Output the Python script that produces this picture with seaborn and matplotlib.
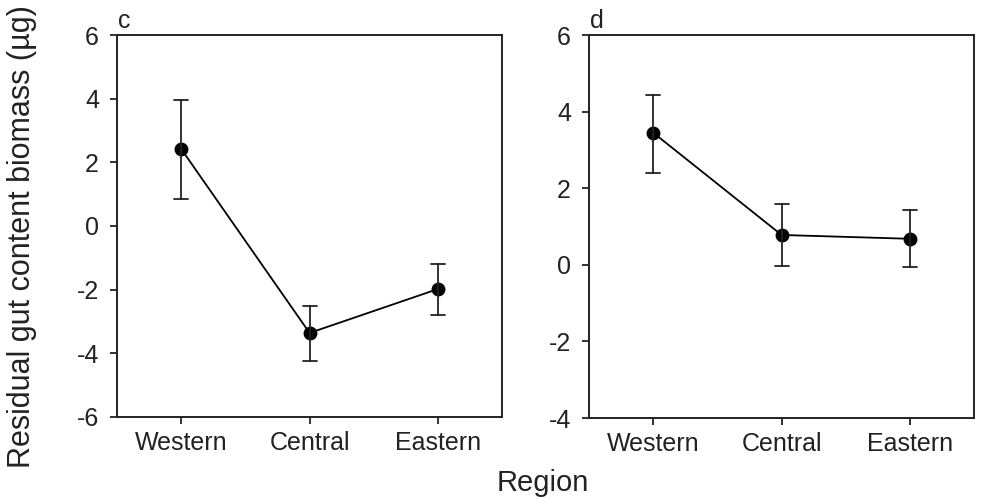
import matplotlib
matplotlib.use("Agg")
import matplotlib.pyplot as plt
import seaborn as sns
import pandas as pd

regions = ["Western", "Central", "Eastern"]

# Panel c: mean, lower, upper
c_mean = [2.42, -3.36, -1.98]
c_low = [0.85, -4.25, -2.80]
c_high = [3.96, -2.50, -1.20]

# Panel d
d_mean = [3.45, 0.78, 0.68]
d_low = [2.40, -0.02, -0.05]
d_high = [4.44, 1.60, 1.44]

c_yticks = [-6, -4, -2, 0, 2, 4, 6]
d_yticks = [-4, -2, 0, 2, 4, 6]


def long_df(mean, low, high):
    rows = []
    for r, m, lo, hi in zip(regions, mean, low, high):
        for v in (lo, m, hi):
            rows.append({"Region": r, "value": v})
    return pd.DataFrame(rows)


sns.set_theme(style="ticks")
plt.rcParams["font.family"] = ["Liberation Sans", "DejaVu Sans"]
plt.rcParams["axes.unicode_minus"] = False

fig = plt.figure(figsize=(9.85, 4.98), dpi=100)
ax_c = fig.add_axes([0.1188, 0.1627, 0.391, 0.767])
ax_d = fig.add_axes([0.598, 0.1606, 0.391, 0.769])

ink = "#222222"
for ax, mean, low, high, yt, label in [
    (ax_c, c_mean, c_low, c_high, c_yticks, "c"),
    (ax_d, d_mean, d_low, d_high, d_yticks, "d"),
]:
    df = long_df(mean, low, high)
    sns.pointplot(
        data=df, x="Region", y="value", order=regions, ax=ax,
        estimator="median", errorbar=lambda v: (v.min(), v.max()),
        color="black", markers="o", capsize=0.11,
        markersize=9, linewidth=1.3,
        err_kws={"linewidth": 1.3, "color": ink},
    )
    ax.set_ylim(yt[0], yt[-1])
    ax.set_yticks(yt)
    ax.set_xlim(-0.5, 2.5)
    ax.set_xlabel("")
    ax.set_ylabel("")
    for s in ax.spines.values():
        s.set_visible(True)
        s.set_linewidth(1.4)
        s.set_color(ink)
    ax.tick_params(axis="both", direction="out", length=5, width=1.3,
                   colors=ink, labelsize=18, labelcolor="#222222")
    ax.tick_params(axis="y", pad=8)
    ax.tick_params(axis="x", pad=5)
    ax.text(0.003, 1.005, label, transform=ax.transAxes, fontsize=18,
            ha="left", va="bottom", color="#222222")

fig.text(0.022, 0.524, "Residual gut content biomass (µg)", rotation=90,
         ha="center", va="center", fontsize=22, color="#222222")
fig.text(0.551, 0.03, "Region", ha="center", va="center", fontsize=21,
         color="#222222")

fig.savefig("out.png", dpi=100)
